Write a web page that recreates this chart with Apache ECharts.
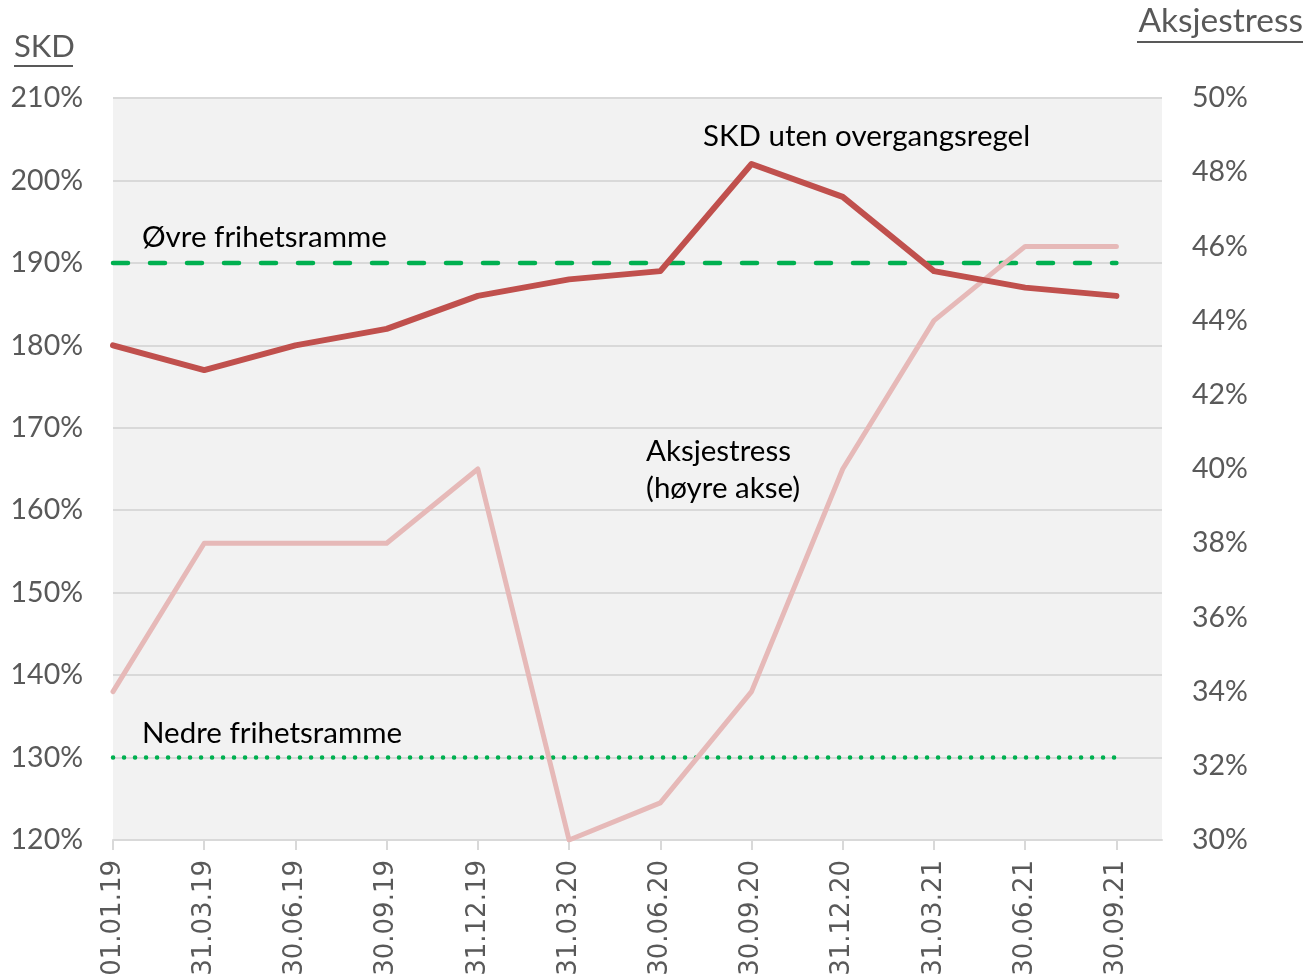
<!DOCTYPE html>
<html>
<head>
<meta charset="utf-8">
<script src="https://cdn.jsdelivr.net/npm/echarts@6/dist/echarts.min.js"></script>
<style>
  html, body { margin: 0; padding: 0; background: #fff; }
  #chart { width: 1309px; height: 975px; }
</style>
</head>
<body>
<div id="chart"></div>
<script>
// kvartalsdatoer
const categories = ['01.01.19', '31.03.19', '30.06.19', '30.09.19', '31.12.19', '31.03.20',
  '30.06.20', '30.09.20', '31.12.20', '31.03.21', '30.06.21', '30.09.21'];
// SKD uten overgangsregel (venstre akse, %)
const skd = [180, 177, 180, 182, 186, 188, 189, 202, 198, 189, 187, 186];
// Aksjestress (høyre akse, %)
const aksjestress = [34, 38, 38, 38, 40, 30, 31, 34, 40, 44, 46, 46];
// frihetsrammer (venstre akse, %)
const ovreRamme = [190, 190, 190, 190, 190, 190, 190, 190, 190, 190, 190, 190];
const nedreRamme = [130, 130, 130, 130, 130, 130, 130, 130, 130, 130, 130, 130];

const tickIdx = categories.map((c, i) => i);
const pairs = arr => arr.map((v, i) => [i, v]);

const FONT = 'Lato';
const GREY = '#595959';

let chart = echarts.init(document.getElementById('chart'));

// tittel med understrek
function underlinedTitle(text, x, y, w, size, align) {
    let left = align === 'right' ? x - w : x;
    return {
        type: 'group',
        children: [
            { type: 'text', x: x, y: y, style: { text: text, font: size + 'px ' + FONT, fill: GREY, textAlign: align || 'left', textVerticalAlign: 'bottom' } },
            { type: 'rect', shape: { x: left, y: y + 3, width: w, height: 2 }, style: { fill: GREY } }
        ]
    };
}

function note(text, x, y) {
    return { type: 'text', x: x, y: y, z: 100, style: { text: text, font: '29.5px ' + FONT, fill: '#000', textVerticalAlign: 'middle', lineHeight: 37 } };
}

chart.setOption({
    animation: false,
    grid: { left: 113, right: 147, top: 98, bottom: 135, outerBoundsMode: 'none', show: true, backgroundColor: '#F2F2F2', borderWidth: 0 },
    xAxis: {
        type: 'value',
        min: 0,
        max: 11.5,
        interval: 1,
        splitLine: { show: false },
        axisLine: { show: true, lineStyle: { color: '#D9D9D9', width: 2 } },
        axisTick: { show: true, customValues: tickIdx, length: 10, lineStyle: { color: '#D9D9D9', width: 2 } },
        axisLabel: {
            customValues: tickIdx,
            rotate: 90,
            margin: 20,
            color: GREY,
            fontFamily: 'DejaVu Sans',
            fontSize: 26,
            formatter: v => categories[v] || ''
        }
    },
    yAxis: [{
        type: 'value',
        min: 120,
        max: 210,
        interval: 10,
        axisLine: { show: false },
        axisTick: { show: false },
        splitLine: { lineStyle: { color: '#D9D9D9', width: 2 } },
        axisLabel: { formatter: '{value}%', color: GREY, fontFamily: FONT, fontSize: 28.5, margin: 30 }
    }, {
        type: 'value',
        min: 30,
        max: 50,
        interval: 2,
        axisLine: { show: false },
        axisTick: { show: false },
        splitLine: { show: false },
        axisLabel: { formatter: '{value}%', color: GREY, fontFamily: FONT, fontSize: 28.5, margin: 30 }
    }],
    series: [{
        name: 'Øvre frihetsramme',
        type: 'line',
        data: pairs(ovreRamme),
        symbol: 'none',
        lineStyle: { color: '#00B050', width: 4.5, type: [15, 22], cap: 'round' }
    }, {
        name: 'Nedre frihetsramme',
        type: 'line',
        data: pairs(nedreRamme),
        symbol: 'none',
        lineStyle: { color: '#00B050', width: 4.5, type: [0.1, 10.9], cap: 'round' }
    }, {
        name: 'Aksjestress',
        type: 'line',
        yAxisIndex: 1,
        data: pairs(aksjestress),
        symbol: 'none',
        lineStyle: { color: '#E6B9B8', width: 5, cap: 'round', join: 'round' }
    }, {
        name: 'SKD uten overgangsregel',
        type: 'line',
        data: pairs(skd),
        symbol: 'none',
        lineStyle: { color: '#C0504D', width: 6, cap: 'round', join: 'round' }
    }],
    graphic: [
        underlinedTitle('SKD', 14, 62, 59, 31),
        underlinedTitle('Aksjestress', 1303, 38, 166, 33.5, 'right'),
        note('SKD uten overgangsregel', 703, 136),
        note('Øvre frihetsramme', 142, 237),
        note('Aksjestress\n(høyre akse)', 646, 470),
        note('Nedre frihetsramme', 142, 733)
    ]
});
</script>
</body>
</html>
